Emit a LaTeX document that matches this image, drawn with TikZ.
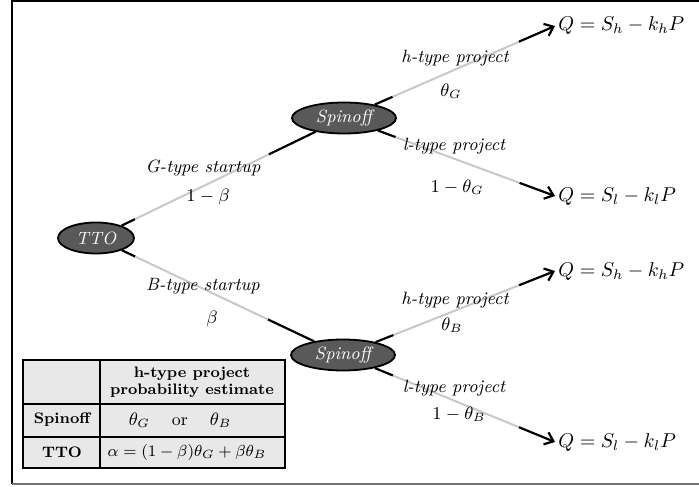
\documentclass[tikz,border=0pt]{standalone}
\usepackage{amsmath}
\usepackage{tikz}
\usetikzlibrary{shapes,arrows.meta,positioning,calc}

\definecolor{nodegray}{HTML}{595959}
\definecolor{linegray}{HTML}{C8C8C8}
\definecolor{tablegray}{HTML}{E8E8E8}

\begin{document}
\begin{tikzpicture}[
  x=0.5pt, y=-0.5pt,
  firm/.style={ellipse, draw=black, fill=nodegray, line width=0.9pt, text=white, inner sep=0pt,
    minimum height=15.5pt, font=\fontsize{8.9}{10}\selectfont\itshape},
  payoff/.style={anchor=west, inner sep=1.5pt, font=\fontsize{10}{12}\selectfont},
  lbl/.style={font=\fontsize{8.9}{10}\selectfont\itshape},
  prob/.style={font=\fontsize{8.7}{10}\selectfont},
  tbl/.style={font=\fontsize{7.6}{8.6}\selectfont\bfseries, align=center},
  faded/.style={draw=linegray, line width=1pt},
  dark/.style={draw=black, line width=1.1pt},
  >={Straight Barb[length=4pt,width=6.5pt]}
]
  \useasboundingbox (0,0) rectangle (699,486);

  % Frame
  \draw[line width=1pt] (699,1) -- (12,1) -- (12,484);
  \draw[line width=1pt, black!55] (12,484) -- (699,484);

  % Firms
  \node[firm, minimum width=38pt] (TTO) at (96,238) {TTO};
  \node[firm, minimum width=52pt] (SpG) at (344,118) {Spinoff};
  \node[firm, minimum width=52pt] (SpB) at (343,355) {Spinoff};

  % Payoffs
  \node[payoff] (Qh1) at (555,26) {$Q=S_h-k_hP$};
  \node[payoff] (Ql1) at (555,196) {$Q=S_l-k_lP$};
  \node[payoff] (Qh2) at (555,271) {$Q=S_h-k_hP$};
  \node[payoff] (Ql2) at (555,442) {$Q=S_l-k_lP$};

  % TTO to spinoffs
  \path (TTO) -- (SpG) coordinate[pos=.07] (g1) coordinate[pos=.76] (g2);
  \draw[dark] (TTO) -- (g1);
  \draw[faded] (g1) -- (g2);
  \draw[dark] (g2) -- (SpG);

  \path (TTO) -- (SpB) coordinate[pos=.07] (b1) coordinate[pos=.76] (b2);
  \draw[dark] (TTO) -- (b1);
  \draw[faded] (b1) -- (b2);
  \draw[dark] (b2) -- (SpB);

  % Spinoff (G) to projects
  \path (SpG) -- (Qh1.west) coordinate[pos=.1] (gh1) coordinate[pos=.8] (gh2);
  \draw[dark] (SpG) -- (gh1);
  \draw[faded] (gh1) -- (gh2);
  \draw[dark, ->] (gh2) -- (Qh1.west);

  \path (SpG) -- (Ql1.west) coordinate[pos=.1] (gl1) coordinate[pos=.8] (gl2);
  \draw[dark] (SpG) -- (gl1);
  \draw[faded] (gl1) -- (gl2);
  \draw[dark, ->] (gl2) -- (Ql1.west);

  % Spinoff (B) to projects
  \path (SpB) -- (Qh2.west) coordinate[pos=.1] (bh1) coordinate[pos=.8] (bh2);
  \draw[dark] (SpB) -- (bh1);
  \draw[faded] (bh1) -- (bh2);
  \draw[dark, ->] (bh2) -- (Qh2.west);

  \path (SpB) -- (Ql2.west) coordinate[pos=.1] (bl1) coordinate[pos=.8] (bl2);
  \draw[dark] (SpB) -- (bl1);
  \draw[faded] (bl1) -- (bl2);
  \draw[dark, ->] (bl2) -- (Ql2.west);

  % Branch labels
  \node[lbl] (Gst) at (203,168) {G-type startup};
  \node[prob] (pG) at (208,197) {$1-\beta$};
  \node[lbl] (Bst) at (203,286) {B-type startup};
  \node[prob] (pB) at (212,319) {$\beta$};

  \node[lbl] (hG) at (455,58) {h-type project};
  \node[prob] (thG) at (451,91) {$\theta_G$};
  \node[lbl] (lG) at (454,146) {l-type project};
  \node[prob] (tlG) at (457,187) {$1-\theta_G$};

  \node[lbl] (hB) at (455,300) {h-type project};
  \node[prob] (thB) at (452,325) {$\theta_B$};
  \node[lbl] (lB) at (454,388) {l-type project};
  \node[prob] (tlB) at (459,414) {$1-\theta_B$};

  % Table
  \draw[fill=tablegray, line width=0.6pt] (23,360) rectangle (285,468);
  \draw[line width=0.6pt] (100,360) -- (100,468);
  \draw[line width=0.6pt] (23,404) -- (285,404);
  \draw[line width=0.6pt] (23,437) -- (285,437);
  \node[tbl] (head) at (192,382) {h-type project\\probability estimate};
  \node[tbl] (rowS) at (62,420) {Spinoff};
  \node[tbl] (rowT) at (62,452) {TTO};
  \node[prob] (estS) at (180,420) {$\theta_G$\hspace{11pt}or\hspace{11pt}$\theta_B$};
  \node[prob, font=\fontsize{7.9}{9}\selectfont] (estT) at (187,452) {$\alpha=(1-\beta)\theta_G+\beta\theta_B$};

\end{tikzpicture}
\end{document}
